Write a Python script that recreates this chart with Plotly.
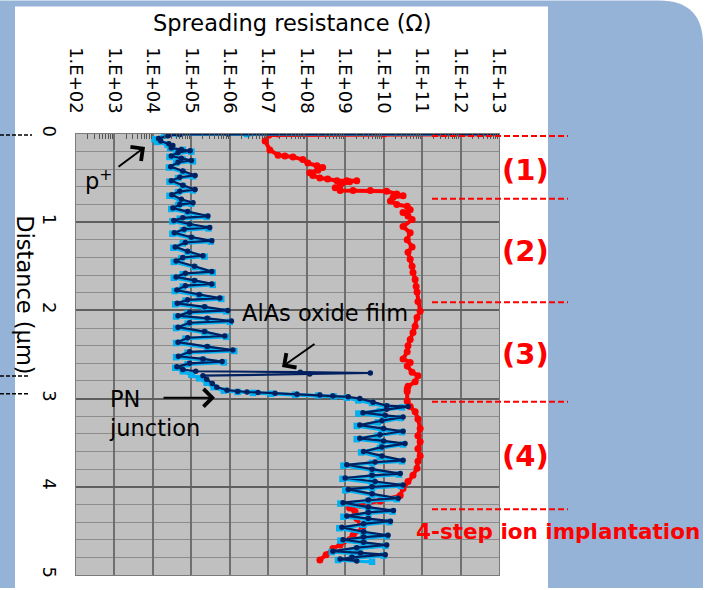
import plotly.graph_objects as go

# ---------------- data ----------------
x_tick_vals = [1e2, 1e3, 1e4, 1e5, 1e6, 1e7, 1e8, 1e9, 1e10, 1e11, 1e12, 1e13]
x_tick_text = ["1.E+02", "1.E+03", "1.E+04", "1.E+05", "1.E+06", "1.E+07",
               "1.E+08", "1.E+09", "1.E+10", "1.E+11", "1.E+12", "1.E+13"]
y_tick_vals = [0, 1, 2, 3, 4, 5]
y_tick_text = ["0", "1", "2", "3", "4", "5"]

red_depth = [0.00, 0.00, 0.00, 0.01, 0.08, 0.18, 0.24, 0.25, 0.26, 0.29, 0.33, 0.36, 0.38,
             0.41, 0.44, 0.47, 0.50, 0.51, 0.53, 0.53, 0.53, 0.54, 0.58, 0.61, 0.64, 0.64,
             0.64, 0.65, 0.68, 0.70, 0.72, 0.76, 0.80, 0.82, 0.86, 0.89, 0.93, 0.97, 1.05,
             1.12, 1.20, 1.28, 1.34, 1.42, 1.50, 1.57, 1.65, 1.73, 1.79, 1.90, 2.01, 2.08,
             2.18, 2.25, 2.33, 2.40, 2.47, 2.55, 2.59, 2.63, 2.70, 2.74, 2.81, 2.86, 2.89,
             2.92, 3.03, 3.09, 3.15, 3.23, 3.34, 3.42, 3.49, 3.57, 3.65, 3.71, 3.79, 3.87,
             3.94, 4.02, 4.10, 4.16, 4.21, 4.24, 4.28, 4.36, 4.47, 4.55, 4.60, 4.66, 4.70,
             4.77, 4.83]
red_res = [1e14, 1.0e10, 1.8e7, 1.05e7, 8.3e6, 1.1e7, 1.8e7, 2.7e7, 4.4e7, 7.9e7, 1.07e8,
           1.85e8, 2.6e8, 1.95e8, 1.2e8, 1.45e8, 2.2e8, 3.5e8, 6.1e8, 1.1e9, 2.0e9, 1.3e9,
           7.4e8, 5.5e8, 7.4e8, 1.6e9, 4.5e9, 1.2e10, 2.2e10, 3.2e10, 1.75e10, 1.5e10,
           2.2e10, 4.1e10, 4.9e10, 3.2e10, 4.3e10, 5.5e10, 3.2e10, 4.9e10, 4.1e10, 5.5e10,
           4.3e10, 4.9e10, 5.5e10, 5.8e10, 6.6e10, 7.0e10, 7.4e10, 7.8e10, 8.9e10, 7.4e10,
           6.6e10, 5.8e10, 4.9e10, 4.3e10, 4.1e10, 3.2e10, 4.9e10, 4.1e10, 5.5e10, 7.8e10,
           6.6e10, 4.3e10, 4.1e10, 4.1e10, 4.1e10, 4.9e10, 6.6e10, 7.8e10, 8.9e10, 7.8e10,
           8.9e10, 7.8e10, 8.9e10, 7.8e10, 7.4e10, 5.8e10, 4.3e10, 3.2e10, 2.7e10, 8.1e9,
           2.4e9, 1.3e9, 1.8e9, 2.0e9, 2.8e9, 1.6e9, 1.3e9, 7.4e8, 4.8e8, 3.2e8, 2.2e8]

lb_depth = [0.00, 0.00, 0.00, 0.02, 0.06, 0.09, 0.12,
            0.16, 0.18, 0.20, 0.22, 0.26, 0.29, 0.31, 0.33, 0.38, 0.43, 0.48, 0.50,
            0.54, 0.59, 0.64, 0.66, 0.70, 0.75, 0.79, 0.81, 0.85, 0.89, 0.94, 0.96,
            0.99, 1.03, 1.07, 1.09, 1.13, 1.18, 1.22, 1.24, 1.29, 1.34, 1.39, 1.41,
            1.45, 1.51, 1.57, 1.59, 1.63, 1.67, 1.71, 1.73, 1.78, 1.83, 1.87, 1.89,
            1.93, 1.97, 2.01, 2.03, 2.07, 2.10, 2.13, 2.15, 2.20, 2.25, 2.30, 2.32,
            2.37, 2.42, 2.46, 2.48, 2.53, 2.56, 2.59, 2.61,
            2.65, 2.69, 2.73, 2.77, 2.82, 2.87, 2.91, 2.925, 2.935, 2.945, 2.955, 2.965,
            2.975, 2.99, 3.02, 3.05, 3.09, 3.10,
            3.14, 3.17, 3.20, 3.22, 3.27, 3.31, 3.35, 3.38, 3.42, 3.46, 3.49, 3.52,
            3.56, 3.61, 3.66, 3.71, 3.73, 3.76, 3.81, 3.86, 3.88, 3.91, 3.95, 3.99,
            4.01, 4.04, 4.09, 4.14, 4.16, 4.19, 4.24, 4.28, 4.30, 4.34, 4.37, 4.40,
            4.43, 4.47, 4.52, 4.56, 4.58, 4.61, 4.64, 4.67, 4.70, 4.74, 4.76, 4.78,
            4.81, 4.83, 4.85]
lb_res = [1e14, 2.8e6, 4.5e4, 2.0e4, 1.1e4, 1.3e4, 2.4e4,
          2.8e4, 6e4, 1.0e5, 4e4, 2.7e4, 6e4, 1.1e5, 4e4, 2.6e4, 6e4, 1.1e5, 4.5e4,
          2.7e4, 6e4, 1.1e5, 4.5e4, 2.7e4, 5e4, 1.0e5, 4.5e4, 3.0e4, 8e4, 2.5e5, 5e4,
          3.2e4, 9e4, 2.8e5, 6e4, 3.2e4, 1.0e5, 3.2e5, 6e4, 3.4e4, 8e4, 2.2e5, 5.5e4,
          3.5e4, 1.2e5, 3.6e5, 6e4, 3.5e4, 1.2e5, 3.6e5, 6e4, 3.7e4, 1.6e5, 6.0e5, 7e4,
          3.8e4, 2.2e5, 8e5, 8e4, 4.0e4, 2.6e5, 1.0e6, 8e4, 4.0e4, 2.2e5, 8e5, 7e4,
          4.0e4, 2.6e5, 1.3e6, 8e4, 4.0e4, 2e5, 7e5, 8e4,
          3.8e4, 6e4, 1.0e5, 1.6e5, 2.5e5, 3.8e5, 7e5, 1.6e6, 4e6, 1.2e7, 5e7, 2e8,
          5e8, 1.1e9, 2.2e9, 5e9, 1.2e10, 3e10,
          8e9, 2.2e9, 1e10, 2.8e10, 7e9, 2.0e9, 9e9, 3.0e10, 7e9, 2.0e9, 9e9, 3.2e10,
          8e9, 2.6e9, 8e9, 3.0e10, 5e9, 9e8, 5e9, 2.5e10, 5e9, 8.5e8, 5e9, 2.8e10,
          5e9, 1.0e9, 5e9, 2.2e10, 4e9, 7.5e8, 4e9, 1.7e10, 4e9, 9e8, 4e9, 1.4e10,
          3e9, 7e8, 3e9, 1.2e10, 3e9, 7.5e8, 3e9, 1.1e10, 2e9, 4.5e8, 2.5e9, 1.0e10,
          1.5e9, 6.5e8, 5e9]

navy_depth = [0.000, 0.000, 0.005, 0.02, 0.05, 0.08, 0.11, 0.13,
              0.16, 0.175, 0.19, 0.21, 0.25, 0.275, 0.30, 0.32, 0.37, 0.42, 0.47, 0.49,
              0.53, 0.58, 0.63, 0.65, 0.69, 0.74, 0.78, 0.80, 0.84, 0.88, 0.93, 0.95,
              0.98, 1.02, 1.06, 1.08, 1.12, 1.17, 1.21, 1.23, 1.28, 1.33, 1.38, 1.40,
              1.44, 1.50, 1.56, 1.58, 1.62, 1.66, 1.70, 1.72, 1.77, 1.82, 1.86, 1.88,
              1.92, 1.96, 2.00, 2.02, 2.06, 2.09, 2.12, 2.14, 2.19, 2.24, 2.29, 2.31,
              2.36, 2.41, 2.45, 2.47, 2.52, 2.55, 2.58, 2.60,
              2.64, 2.67, 2.69, 2.70, 2.71, 2.72, 2.74, 2.78, 2.83, 2.87, 2.905, 2.92,
              2.925, 2.93, 2.94, 2.95, 2.96, 2.97, 2.98, 3.00, 3.04, 3.08, 3.09,
              3.12, 3.16, 3.19, 3.21, 3.25, 3.30, 3.34, 3.37, 3.41, 3.45, 3.48, 3.51,
              3.55, 3.60, 3.65, 3.70, 3.72, 3.75, 3.80, 3.85, 3.87, 3.90, 3.94, 3.98,
              4.00, 4.03, 4.08, 4.13, 4.15, 4.18, 4.23, 4.27, 4.29, 4.33, 4.36, 4.39,
              4.42, 4.46, 4.51, 4.55, 4.57, 4.60, 4.63, 4.66, 4.69, 4.73, 4.75, 4.77,
              4.80, 4.82, 4.84]
navy_res = [1e14, 8.9e5, 5.0e4, 2.5e4, 1.4e4, 1.6e4, 2.6e4, 3.3e4,
            3.0e4, 5.5e4, 9.3e4, 4.5e4, 3.0e4, 5.5e4, 1.0e5, 4.5e4, 2.9e4, 6e4, 1.25e5, 5e4,
            3.0e4, 6e4, 1.25e5, 5e4, 3.1e4, 5.5e4, 1.1e5, 5e4, 3.3e4, 8e4, 2.7e5, 6e4,
            3.5e4, 9e4, 3.0e5, 6.5e4, 3.6e4, 1.0e5, 3.4e5, 7e4, 3.8e4, 8e4, 2.0e5, 6e4,
            4.0e4, 1.2e5, 3.4e5, 7e4, 4.0e4, 1.2e5, 3.4e5, 7e4, 4.2e4, 1.6e5, 5.5e5, 8e4,
            4.3e4, 2.2e5, 8.9e5, 9e4, 4.5e4, 2.6e5, 1.1e6, 9e4, 4.5e4, 2.2e5, 7.4e5, 8e4,
            4.5e4, 2.6e5, 1.2e6, 9e4, 4.6e4, 2e5, 6.3e5, 9e4,
            4.2e4, 6e4, 1.3e5, 6.8e7, 4.5e9, 1.2e8, 2.0e5, 2.5e5, 3.5e5, 4.6e5, 8.5e5, 1.6e6,
            2.8e6, 5.4e6, 1.5e7, 5.6e7, 2.2e8, 4.8e8, 1.2e9, 2.4e9, 5.3e9, 1.2e10, 4.3e10,
            1.2e10, 2.9e9, 1.1e10, 3.2e10, 9e9, 2.4e9, 1.0e10, 3.2e10, 8e9, 2.4e9, 1.0e10, 3.6e10,
            9e9, 3.0e9, 9e9, 3.2e10, 6e9, 1.1e9, 5e9, 2.7e10, 5e9, 1.0e9, 6e9, 3.2e10,
            5e9, 1.2e9, 5e9, 2.4e10, 4e9, 8.8e8, 4e9, 1.8e10, 4e9, 1.1e9, 4e9, 1.5e10,
            3e9, 8.2e8, 3e9, 1.3e10, 3e9, 8.8e8, 3e9, 1.2e10, 2e9, 4.8e8, 2.5e9, 1.1e10,
            1.5e9, 7.4e8, 2e9]

# ---------------- layout geometry ----------------
W, H = 713, 590
ML, MR, MT, MB = 76, 214, 134, 13
PW = W - ML - MR
PH = H - MT - MB


def px(x):
    return (x - ML) / PW


def py(y):
    return (H - MB - y) / PH


FONT = "DejaVu Sans"
BLUE_BG = "#95B3D7"

fig = go.Figure()
fig.add_trace(go.Scatter(x=red_res, y=red_depth, mode="lines+markers",
                         line=dict(color="#FF0000", width=4),
                         marker=dict(color="#FF0000", size=7, symbol="circle")))
fig.add_trace(go.Scatter(x=lb_res, y=lb_depth, mode="lines+markers",
                         line=dict(color="#00B0F0", width=3.5),
                         marker=dict(color="#00B0F0", size=6.5, symbol="square")))
fig.add_trace(go.Scatter(x=navy_res, y=navy_depth, mode="lines+markers",
                         line=dict(color="#002060", width=2.2),
                         marker=dict(color="#002060", size=5.5, symbol="circle")))

minor_x = [k * 10 ** d for d in range(2, 13) for k in range(2, 10)]

fig.update_xaxes(type="log", range=[2, 13], side="top",
                 tickmode="array", tickvals=x_tick_vals, ticktext=x_tick_text,
                 tickangle=90, tickfont=dict(family=FONT, size=18, color="#000"),
                 ticks="", ticklabelstandoff=13,
                 showgrid=True, gridcolor="#6f6f6f", gridwidth=1.5,
                 showline=True, linecolor="#7a7a7a", linewidth=1, mirror=True,
                 zeroline=False,
                 minor=dict(tickmode="array", tickvals=minor_x, ticks="inside",
                            ticklen=5, tickcolor="#555555", tickwidth=1, showgrid=False))
fig.update_yaxes(range=[5, 0], tickmode="array", tickvals=y_tick_vals, ticktext=y_tick_text,
                 tickangle=90, tickfont=dict(family=FONT, size=18, color="#000"),
                 ticks="", ticklabelstandoff=10,
                 showgrid=True, gridcolor="#5f5f5f", gridwidth=1.5,
                 showline=True, linecolor="#7a7a7a", linewidth=1, mirror=True,
                 zeroline=False,
                 minor=dict(dtick=0.2, showgrid=True, gridcolor="#8c8c8c", gridwidth=1))

shapes = []
# blue background with rounded top-right corner
r = 44
path = (f"M {px(0)},{py(0)} L {px(703 - r)},{py(0)} "
        f"Q {px(703)},{py(0)} {px(703)},{py(r)} "
        f"L {px(703)},{py(590)} L {px(0)},{py(590)} Z")
shapes.append(dict(type="path", xref="paper", yref="paper", path=path,
                   fillcolor=BLUE_BG, line=dict(width=0), layer="below"))
shapes.append(dict(type="rect", xref="paper", yref="paper",
                   x0=px(15), x1=px(548), y0=py(590), y1=py(6),
                   fillcolor="white", line=dict(width=0), layer="below"))
shapes.append(dict(type="rect", xref="paper", yref="paper", x0=0, x1=1, y0=0, y1=1,
                   fillcolor="#C0C0C0", line=dict(width=0), layer="below"))
# red dashed separators
for yy in [136, 199, 303, 403, 511]:
    shapes.append(dict(type="line", xref="paper", yref="paper",
                       x0=px(432), x1=px(568), y0=py(yy), y1=py(yy),
                       line=dict(color="#FF0000", width=2, dash="6px,3px"), layer="above"))
# black dashed marks on the left
for (yy, xe) in [(135, 32), (377, 30), (395, 30)]:
    shapes.append(dict(type="line", xref="paper", yref="paper",
                       x0=px(0), x1=px(xe), y0=py(yy), y1=py(yy),
                       line=dict(color="#000000", width=1.5, dash="4px,2px"), layer="above"))

ann = []


def txt(x, y, text, size=22.5, color="#000", xanchor="center", **kw):
    d = dict(xref="paper", yref="paper", x=px(x), y=py(y), text=text, showarrow=False,
             xanchor=xanchor, yanchor="middle",
             font=dict(family=FONT, size=size, color=color))
    d.update(kw)
    ann.append(d)


def arrow(hx, hy, tx, ty):
    ann.append(dict(xref="paper", yref="paper", x=px(hx), y=py(hy), ax=tx - hx, ay=ty - hy,
                    text="", showarrow=True, arrowhead=4, arrowsize=1.7, arrowwidth=2,
                    arrowcolor="#000", standoff=0, startstandoff=0))


txt(292, 22, "Spreading resistance (Ω)")
txt(25, 295, "Distance (µm)", textangle=90)
txt(99, 180, "p<sup>+</sup>")
arrow(145, 147, 117, 168)
txt(325, 314, "AlAs oxide film")
arrow(282, 368, 316, 344)
txt(107, 415, "PN<br>junction", align="left", xanchor="left")
arrow(215, 399, 162, 399)
for lab, yy in [("(1)", 170), ("(2)", 252), ("(3)", 355), ("(4)", 457)]:
    txt(525, yy, f"<b>{lab}</b>", size=29, color="#FF0000")
txt(558, 533, "<b>4-step ion implantation</b>", size=21.5, color="#FF0000")

fig.update_layout(width=W, height=H, margin=dict(l=ML, r=MR, t=MT, b=MB),
                  paper_bgcolor="white", plot_bgcolor="rgba(0,0,0,0)",
                  showlegend=False, hovermode=False,
                  shapes=shapes, annotations=ann, font=dict(family=FONT))

fig.write_html("out.html")
